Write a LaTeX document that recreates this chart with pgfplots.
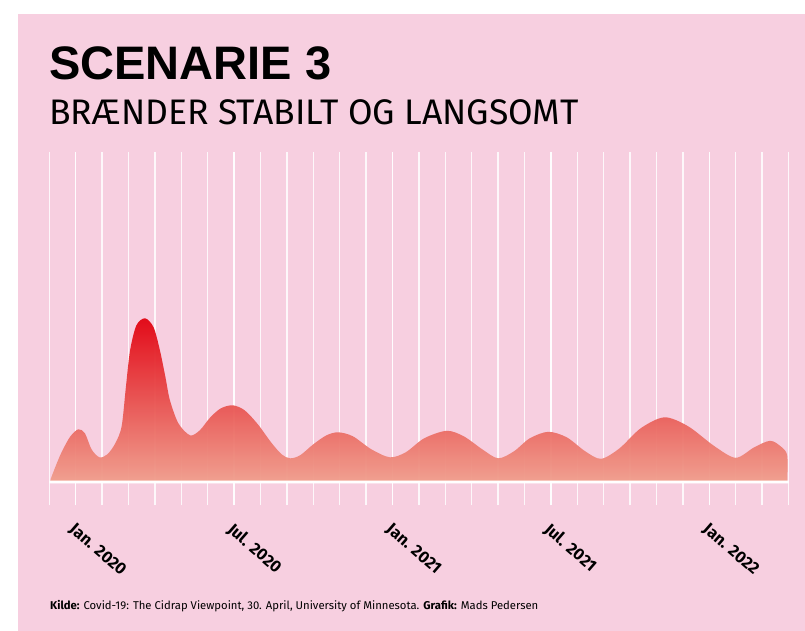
\documentclass[border=0pt]{standalone}
\usepackage{fontspec}
\setmainfont{Fira Sans}
\newfontfamily\titlefont{Liberation Sans}
\usepackage{pgfplots}
\pgfplotsset{compat=1.18}
\definecolor{bgpink}{RGB}{247,207,224}
\definecolor{topred}{RGB}{225,0,14}
\definecolor{midred}{RGB}{228,52,32}
\definecolor{lowred}{RGB}{240,158,140}

\begin{document}
\begin{tikzpicture}[x=1pt,y=1pt]
% page and panel
\fill[white] (0,0) rectangle (805,-631);
\fill[bgpink] (18,-14) rectangle (805,-631);
\coordinate (axisSW) at (49.3,-505.3);

\node[anchor=base west, inner sep=0, font=\fontsize{47}{50}\selectfont\titlefont\bfseries] at (49,-80) {SCENARIE 3};
\node[anchor=base west, inner sep=0, font=\fontsize{35.5}{38}\selectfont] at (49,-125) {BRÆNDER STABILT OG LANGSOMT};

\begin{axis}[
  at={(axisSW)}, anchor=south west,
  scale only axis, width=739.2pt, height=353pt,
  xmin=0, xmax=28, ymin=-23, ymax=330,
  clip=false,
  axis line style={draw=none},
  ytick=\empty,
  xtick={1,7,13,19,25},
  xticklabels={Jan. 2020,Jul. 2020,Jan. 2021,Jul. 2021,Jan. 2022},
  minor xtick={0,...,28},
  major tick length=0pt, minor tick length=0pt,
  xmajorgrids, xminorgrids,
  major grid style={white, line width=1.4pt, opacity=0.85},
  minor grid style={white, line width=1.4pt, opacity=0.85},
  xticklabel style={font=\fontsize{16.5}{17}\selectfont\bfseries, xshift=-7pt, yshift=-20pt, rotate=-41, anchor=west},
]
\addplot[draw=none, fill opacity=0.94, top color=topred, middle color=midred, bottom color=lowred, smooth, tension=0.5] coordinates {
  (0.05,0) (0.05,3) (0.3,20) (0.5,32) (0.8,46) (1.1,53) (1.35,49) (1.6,33) (1.9,25)
  (2.2,28) (2.5,39) (2.74,56) (2.9,95) (3.06,132) (3.3,157) (3.63,164) (3.95,155)
  (4.19,132) (4.4,105) (4.57,82) (4.89,59) (5.33,47) (5.7,52) (6.1,65) (6.5,74)
  (6.95,77) (7.4,72) (7.9,58) (8.4,40) (8.8,28) (9.12,24) (9.5,27) (10.0,38)
  (10.5,47) (10.95,50) (11.5,46) (12.2,33) (12.9,25) (13.5,30) (14.2,44) (15.05,51.5)
  (15.7,46) (16.4,33) (17.0,24) (17.6,31) (18.2,44) (18.9,50.5) (19.6,45) (20.3,31)
  (20.9,23.5) (21.6,34) (22.4,54) (23.3,65) (24.2,56) (25.2,36) (26.0,24.5) (26.7,35)
  (27.3,41.5) (27.7,36) (27.95,27) (27.95,0)
} \closedcycle;
\addplot[white, opacity=0.4, line width=4pt] coordinates {(0,0) (28,0)};
\addplot[white, line width=1.8pt] coordinates {(0,0) (28,0)};
\end{axis}

\node[anchor=base west, inner sep=0, font=\fontsize{11.3}{12}\selectfont] at (50,-609)
  {\textbf{Kilde:} Covid-19: The Cidrap Viewpoint, 30. April, University of Minnesota. \textbf{Grafik:} Mads Pedersen};
\end{tikzpicture}
\end{document}
